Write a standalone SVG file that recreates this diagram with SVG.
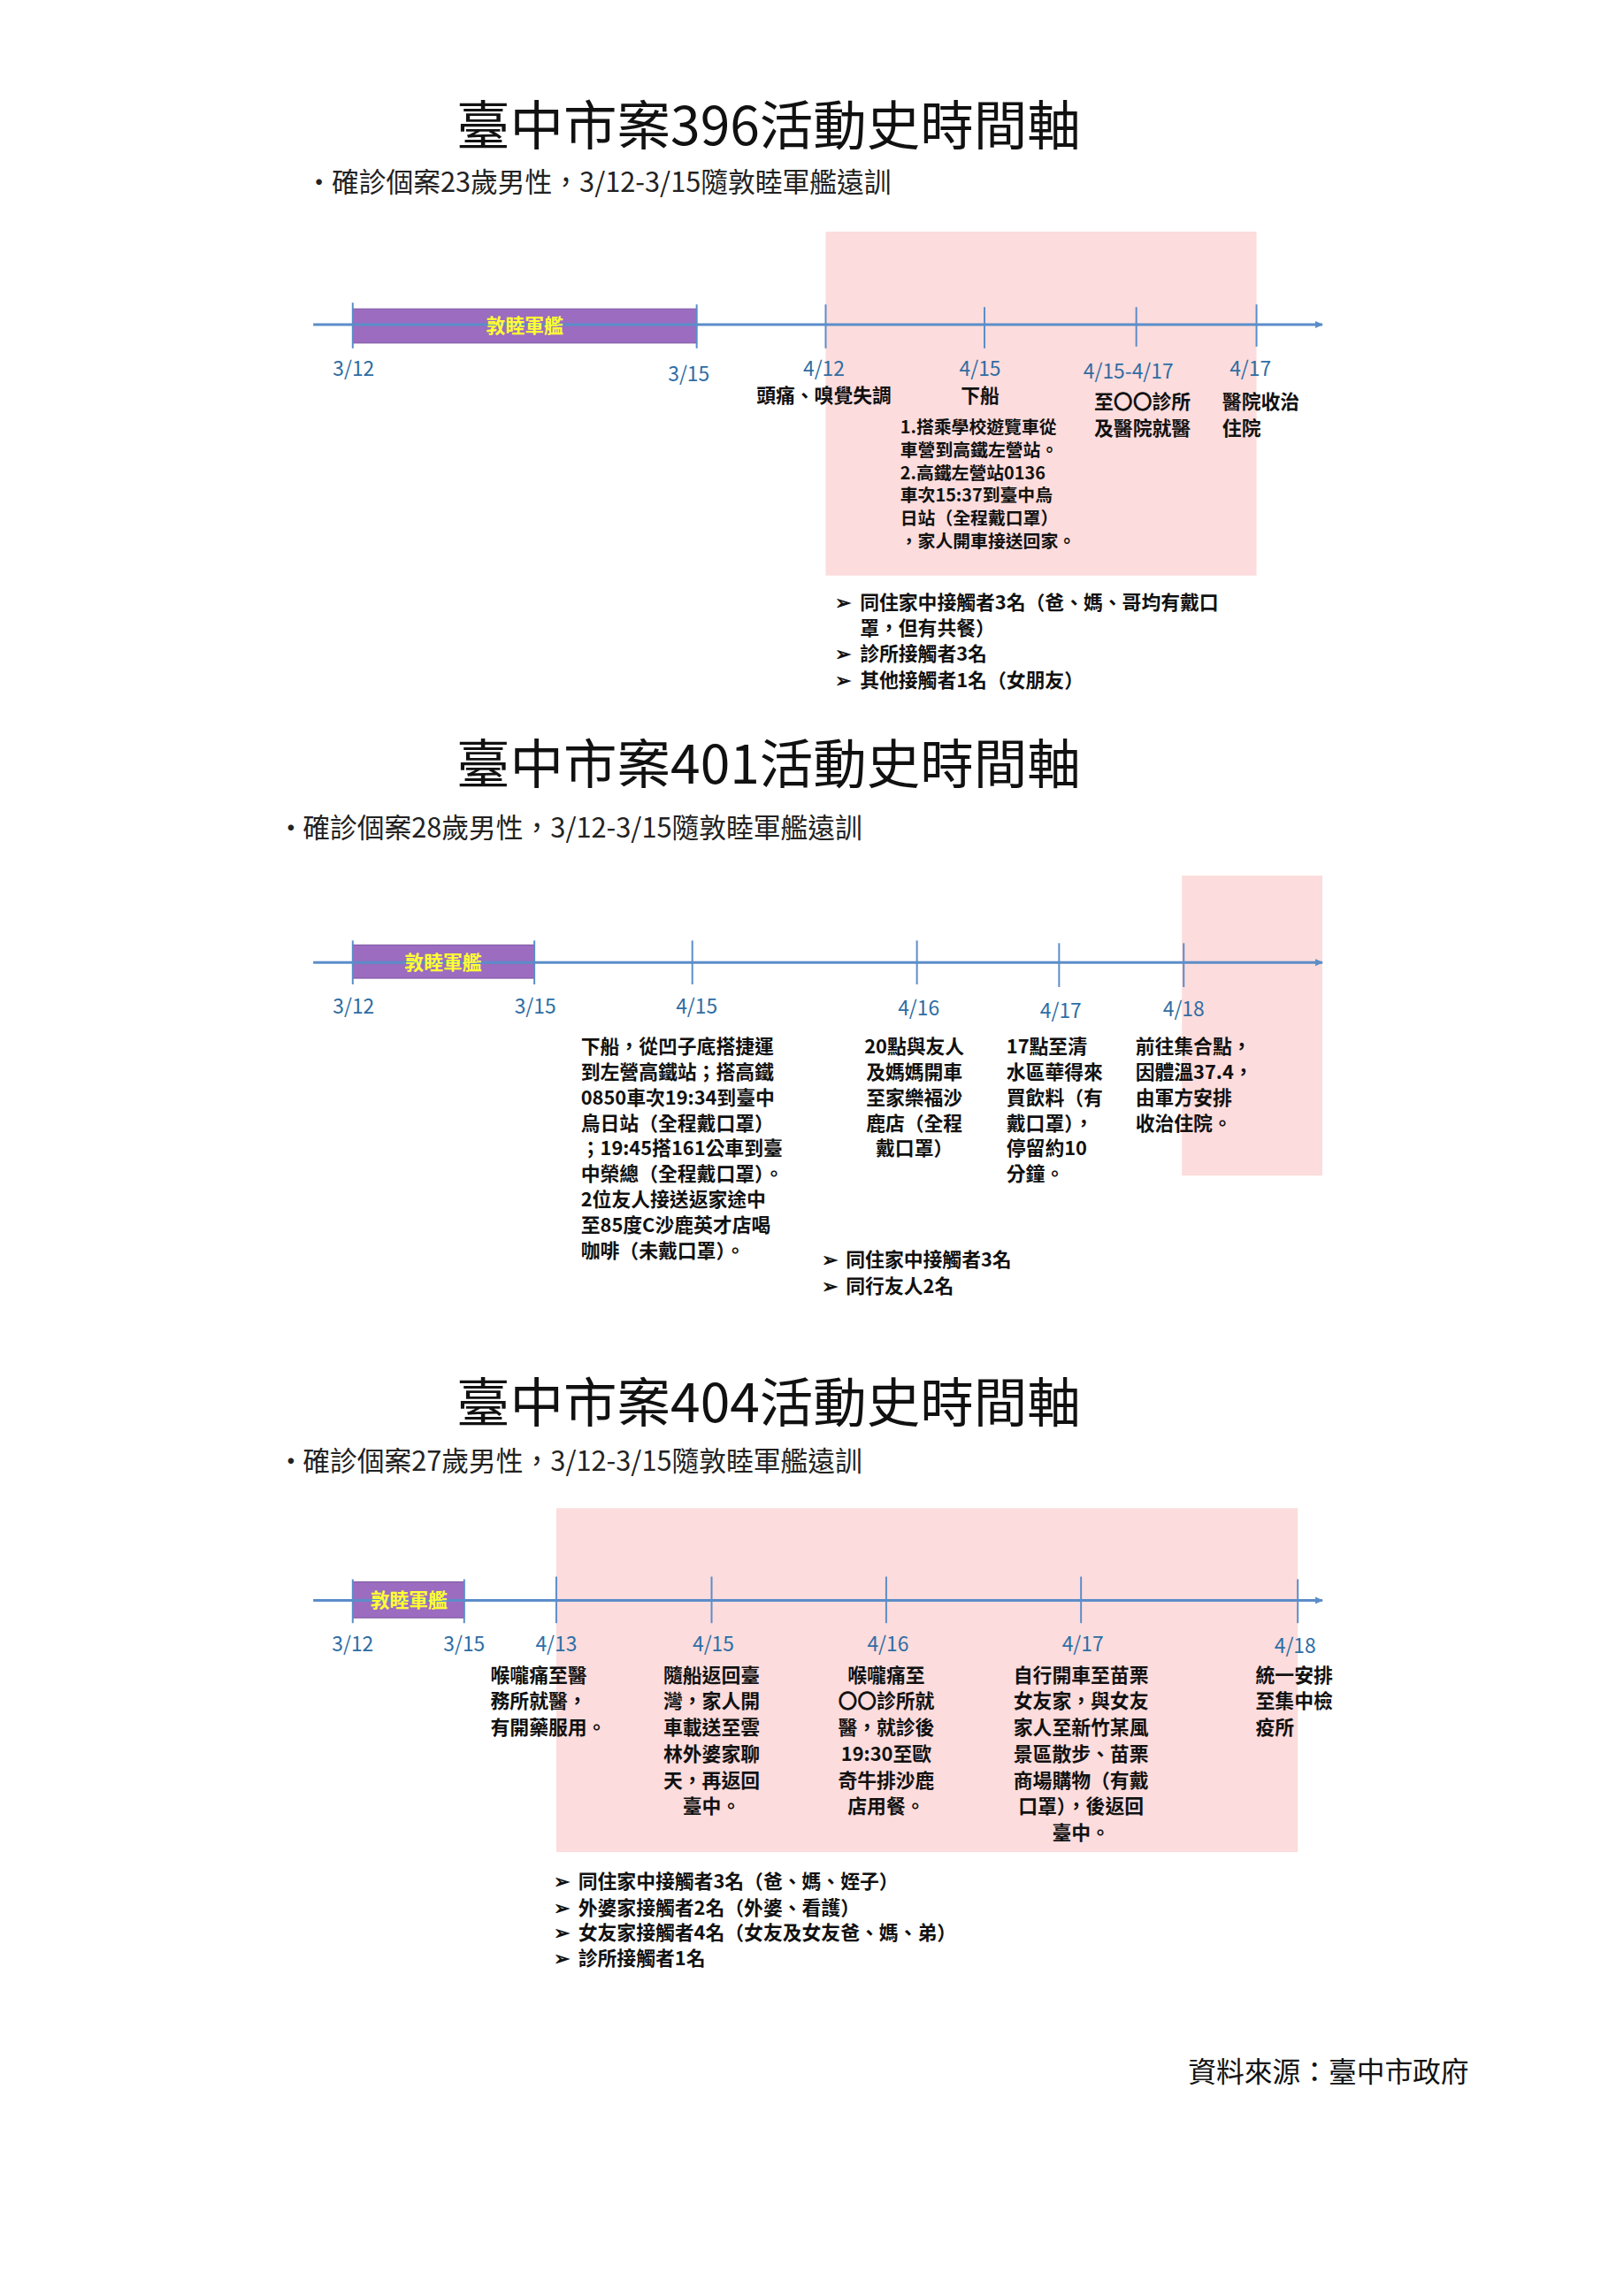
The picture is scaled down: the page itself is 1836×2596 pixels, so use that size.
<svg xmlns="http://www.w3.org/2000/svg" width="1836" height="2596" viewBox="0 0 1836 2596">
<defs>
<marker id="arr" markerWidth="10" markerHeight="10" refX="8" refY="5" orient="auto" markerUnits="userSpaceOnUse"><path d="M0,1 L9,5 L0,9 z" fill="#5B8DC9"/></marker>
<style>
text{font-family:"Noto Sans CJK TC","Noto Sans CJK SC",sans-serif}
.title{font-size:61px;fill:#111;text-anchor:middle}
.sub{font-size:31px;fill:#222}
.date{font-size:23px;fill:#2E6DA4;text-anchor:middle}
.ev{font-size:22px;fill:#111;font-weight:bold}
.evs{font-size:20px;fill:#111;font-weight:bold}
.mid{text-anchor:middle}
.ship{font-size:22px;fill:#FFFF33;font-weight:bold;text-anchor:middle}
.pink{fill:#FCDCDC}
.bar{fill:#9B6CC0;stroke:#7a55a0;stroke-width:1}
.axis{stroke:#5B8DC9;stroke-width:3;fill:none}
.tick{stroke:#5B8DC9;stroke-width:2}
</style>
</defs>
<rect width="1836" height="2596" fill="#fff"/>
<g transform="scale(0.992)">
<!-- Section 1 -->
<g id="sec1">
<text class="title" x="876" y="165">臺中市案396活動史時間軸</text>
<text class="sub" x="348" y="219">•</text>
<text class="sub" x="378" y="219">確診個案23歲男性，3/12-3/15隨敦睦軍艦遠訓</text>
<rect class="pink" x="941" y="264" width="491" height="392"/>
</g>
<g id="connectors1">
<line class="axis" x1="357" y1="370" x2="1507" y2="370" marker-end="url(#arr)"/>
</g>
<g id="ship1"><rect class="bar" x="402" y="352" width="392" height="39"/><line class="axis" x1="402" y1="370" x2="794" y2="370" stroke="#6a4fa0"/><text class="ship" x="598" y="379">敦睦軍艦</text></g>
<g id="ticks1">
<line class="tick" x1="402" y1="345" x2="402" y2="397"/><line class="tick" x1="794" y1="347" x2="794" y2="397"/>
<line class="tick" x1="941" y1="347" x2="941" y2="397"/><line class="tick" x1="1122" y1="350" x2="1122" y2="397"/>
<line class="tick" x1="1295" y1="350" x2="1295" y2="395"/><line class="tick" x1="1432" y1="347" x2="1432" y2="395"/>
</g>
<g id="dates1">
<text class="date" x="403" y="428">3/12</text><text class="date" x="785" y="434">3/15</text>
<text class="date" x="939" y="428">4/12</text><text class="date" x="1117" y="428">4/15</text>
<text class="date" x="1286" y="431">4/15-4/17</text><text class="date" x="1425" y="428">4/17</text>
</g>
<g id="ev1">
<text class="ev mid" x="939" y="459">頭痛、嗅覺失調</text>
<text class="ev mid" x="1117" y="459">下船</text>
<text class="ev mid" x="1302" y="466">至〇〇診所</text><text class="ev mid" x="1302" y="496">及醫院就醫</text>
<text class="ev" x="1393" y="466">醫院收治</text><text class="ev" x="1393" y="496">住院</text>
<text class="evs" x="1026" y="494">1.搭乘學校遊覽車從</text><text class="evs" x="1026" y="520">車營到高鐵左營站。</text>
<text class="evs" x="1026" y="546">2.高鐵左營站0136</text><text class="evs" x="1026" y="572">車次15:37到臺中烏</text>
<text class="evs" x="1026" y="598">日站（全程戴口罩）</text><text class="evs" x="1026" y="624">，家人開車接送回家。</text>
</g>
<g id="list1">
<text class="ev" x="952" y="695">➢</text><text class="ev" x="980" y="695">同住家中接觸者3名（爸、媽、哥均有戴口</text>
<text class="ev" x="980" y="724">罩，但有共餐）</text>
<text class="ev" x="952" y="753">➢</text><text class="ev" x="980" y="753">診所接觸者3名</text>
<text class="ev" x="952" y="783">➢</text><text class="ev" x="980" y="783">其他接觸者1名（女朋友）</text>
</g>

<!-- Section 2 -->
<g id="sec2">
<text class="title" x="876" y="893">臺中市案401活動史時間軸</text>
<text class="sub" x="316" y="955">•</text>
<text class="sub" x="345" y="955">確診個案28歲男性，3/12-3/15隨敦睦軍艦遠訓</text>
<rect class="pink" x="1347" y="998" width="160" height="342"/>
</g>
<g id="connectors2">
<line class="axis" x1="357" y1="1097" x2="1507" y2="1097" marker-end="url(#arr)"/>
</g>
<g id="ship2"><rect class="bar" x="402" y="1077" width="207" height="38"/><line class="axis" x1="402" y1="1097" x2="609" y2="1097" stroke="#6a4fa0"/><text class="ship" x="505" y="1105">敦睦軍艦</text></g>
<g id="ticks2">
<line class="tick" x1="402" y1="1072" x2="402" y2="1122"/><line class="tick" x1="609" y1="1072" x2="609" y2="1122"/>
<line class="tick" x1="789" y1="1072" x2="789" y2="1122"/><line class="tick" x1="1045" y1="1072" x2="1045" y2="1122"/>
<line class="tick" x1="1207" y1="1075" x2="1207" y2="1125"/><line class="tick" x1="1349" y1="1075" x2="1349" y2="1125"/>
</g>
<g id="dates2">
<text class="date" x="403" y="1155">3/12</text><text class="date" x="610" y="1155">3/15</text>
<text class="date" x="794" y="1155">4/15</text><text class="date" x="1047" y="1157">4/16</text>
<text class="date" x="1209" y="1160">4/17</text><text class="date" x="1349" y="1158">4/18</text>
</g>
<g id="ev2">
<text class="ev" x="662" y="1201">下船，從凹子底搭捷運</text><text class="ev" x="662" y="1230">到左營高鐵站；搭高鐵</text>
<text class="ev" x="662" y="1259">0850車次19:34到臺中</text><text class="ev" x="662" y="1288">烏日站（全程戴口罩）</text>
<text class="ev" x="662" y="1317">；19:45搭161公車到臺</text><text class="ev" x="662" y="1346">中榮總（全程戴口罩）。</text>
<text class="ev" x="662" y="1375">2位友人接送返家途中</text><text class="ev" x="662" y="1404">至85度C沙鹿英才店喝</text>
<text class="ev" x="662" y="1433">咖啡（未戴口罩）。</text>
<text class="ev mid" x="1042" y="1201">20點與友人</text><text class="ev mid" x="1042" y="1230">及媽媽開車</text>
<text class="ev mid" x="1042" y="1259">至家樂福沙</text><text class="ev mid" x="1042" y="1288">鹿店（全程</text>
<text class="ev mid" x="1042" y="1317">戴口罩）</text>
<text class="ev" x="1147" y="1201">17點至清</text><text class="ev" x="1147" y="1230">水區華得來</text>
<text class="ev" x="1147" y="1259">買飲料（有</text><text class="ev" x="1147" y="1288">戴口罩），</text>
<text class="ev" x="1147" y="1317">停留約10</text><text class="ev" x="1147" y="1346">分鐘。</text>
<text class="ev" x="1294" y="1201">前往集合點，</text><text class="ev" x="1294" y="1230">因體溫37.4，</text>
<text class="ev" x="1294" y="1259">由軍方安排</text><text class="ev" x="1294" y="1288">收治住院。</text>
</g>
<g id="list2">
<text class="ev" x="936" y="1444">➢</text><text class="ev" x="964" y="1444">同住家中接觸者3名</text>
<text class="ev" x="936" y="1474">➢</text><text class="ev" x="964" y="1474">同行友人2名</text>
</g>

<!-- Section 3 -->
<g id="sec3">
<text class="title" x="876" y="1621">臺中市案404活動史時間軸</text>
<text class="sub" x="316" y="1676">•</text>
<text class="sub" x="345" y="1676">確診個案27歲男性，3/12-3/15隨敦睦軍艦遠訓</text>
<rect class="pink" x="634" y="1719" width="845" height="392"/>
</g>
<g id="connectors3">
<line class="axis" x1="357" y1="1824" x2="1507" y2="1824" marker-end="url(#arr)"/>
</g>
<g id="ship3"><rect class="bar" x="402" y="1803" width="127" height="41"/><line class="axis" x1="402" y1="1824" x2="529" y2="1824" stroke="#6a4fa0"/><text class="ship" x="466" y="1832">敦睦軍艦</text></g>
<g id="ticks3">
<line class="tick" x1="402" y1="1800" x2="402" y2="1850"/><line class="tick" x1="529" y1="1800" x2="529" y2="1850"/>
<line class="tick" x1="634" y1="1797" x2="634" y2="1850"/><line class="tick" x1="811" y1="1797" x2="811" y2="1850"/>
<line class="tick" x1="1010" y1="1797" x2="1010" y2="1850"/><line class="tick" x1="1232" y1="1797" x2="1232" y2="1850"/>
<line class="tick" x1="1479" y1="1800" x2="1479" y2="1850"/>
</g>
<g id="dates3">
<text class="date" x="402" y="1882">3/12</text><text class="date" x="529" y="1882">3/15</text>
<text class="date" x="634" y="1882">4/13</text><text class="date" x="813" y="1882">4/15</text>
<text class="date" x="1012" y="1882">4/16</text><text class="date" x="1234" y="1882">4/17</text>
<text class="date" x="1476" y="1884">4/18</text>
</g>
<g id="ev3">
<text class="ev" x="559" y="1917">喉嚨痛至醫</text><text class="ev" x="559" y="1947">務所就醫，</text><text class="ev" x="559" y="1977">有開藥服用。</text>
<text class="ev mid" x="811" y="1917">隨船返回臺</text><text class="ev mid" x="811" y="1947">灣，家人開</text>
<text class="ev mid" x="811" y="1977">車載送至雲</text><text class="ev mid" x="811" y="2007">林外婆家聊</text>
<text class="ev mid" x="811" y="2037">天，再返回</text><text class="ev mid" x="811" y="2067">臺中。</text>
<text class="ev mid" x="1010" y="1917">喉嚨痛至</text><text class="ev mid" x="1010" y="1947">〇〇診所就</text>
<text class="ev mid" x="1010" y="1977">醫，就診後</text><text class="ev mid" x="1010" y="2007">19:30至歐</text>
<text class="ev mid" x="1010" y="2037">奇牛排沙鹿</text><text class="ev mid" x="1010" y="2067">店用餐。</text>
<text class="ev mid" x="1232" y="1917">自行開車至苗栗</text><text class="ev mid" x="1232" y="1947">女友家，與女友</text>
<text class="ev mid" x="1232" y="1977">家人至新竹某風</text><text class="ev mid" x="1232" y="2007">景區散步、苗栗</text>
<text class="ev mid" x="1232" y="2037">商場購物（有戴</text><text class="ev mid" x="1232" y="2067">口罩），後返回</text>
<text class="ev mid" x="1232" y="2097">臺中。</text>
<text class="ev" x="1431" y="1917">統一安排</text><text class="ev" x="1431" y="1947">至集中檢</text><text class="ev" x="1431" y="1977">疫所</text>
</g>
<g id="list3">
<text class="ev" x="631" y="2152">➢</text><text class="ev" x="659" y="2152">同住家中接觸者3名（爸、媽、姪子）</text>
<text class="ev" x="631" y="2182">➢</text><text class="ev" x="659" y="2182">外婆家接觸者2名（外婆、看護）</text>
<text class="ev" x="631" y="2211">➢</text><text class="ev" x="659" y="2211">女友家接觸者4名（女友及女友爸、媽、弟）</text>
<text class="ev" x="631" y="2240">➢</text><text class="ev" x="659" y="2240">診所接觸者1名</text>
</g>
<g id="source"><text x="1674" y="2373" font-size="32" fill="#111" text-anchor="end">資料來源：臺中市政府</text></g>
</g>
</svg>
